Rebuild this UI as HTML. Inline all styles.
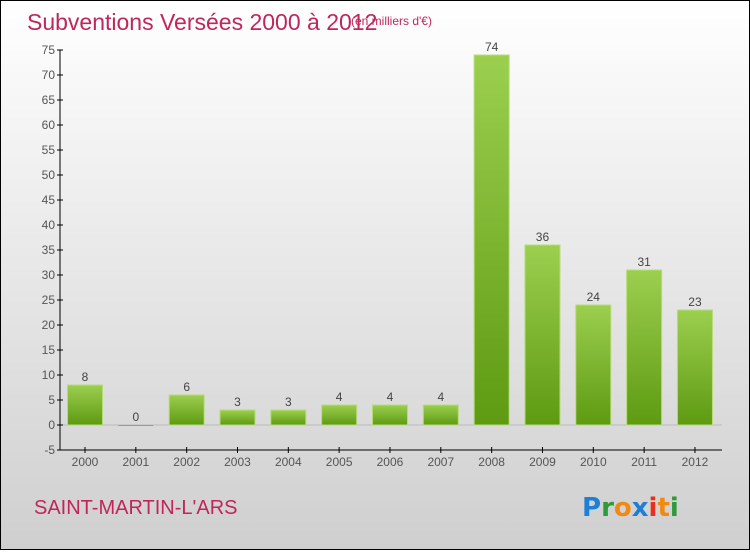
<!DOCTYPE html>
<html><head><meta charset="utf-8"><style>
body{margin:0;width:750px;height:550px;overflow:hidden;font-family:"Liberation Sans",sans-serif}
</style></head><body>
<svg width="750" height="550" xmlns="http://www.w3.org/2000/svg">
<defs>
<linearGradient id="bg" x1="0" y1="0" x2="0" y2="1"><stop offset="0" stop-color="#ffffff"/><stop offset="1" stop-color="#cfcfcf"/></linearGradient>
<linearGradient id="bar" x1="0" y1="0" x2="0" y2="1"><stop offset="0" stop-color="#9ccf4f"/><stop offset="1" stop-color="#5e9a12"/></linearGradient>
</defs>
<rect x="0.5" y="0.5" width="749" height="549" fill="url(#bg)" stroke="#000"/>
<text x="27" y="30" font-size="23" fill="#c0265a">Subventions Versées 2000 à 2012</text>
<text x="351" y="25" font-size="12" fill="#c0265a">(en milliers d'€)</text>
<g id="axes"></g>
<g id="bars"></g>
<text x="34" y="514" font-size="20" fill="#c0265a">SAINT-MARTIN-L'ARS</text>
<g font-size="26" font-weight="bold" font-family="'DejaVu Sans',sans-serif">
<text x="582" y="516"><tspan fill="#1e7fd6">P</tspan><tspan fill="#2e9a3a">r</tspan><tspan fill="#f08a10">o</tspan><tspan fill="#1e7fd6">x</tspan><tspan fill="#e83020">i</tspan><tspan fill="#f08a10">t</tspan><tspan fill="#2e9a3a">i</tspan></text>
</g>
</svg>
<script>
const years=["2000","2001","2002","2003","2004","2005","2006","2007","2008","2009","2010","2011","2012"];
const values=[8,0,6,3,3,4,4,4,74,36,24,31,23];
const yTicks=[-5,0,5,10,15,20,25,30,35,40,45,50,55,60,65,70,75];
const NS="http://www.w3.org/2000/svg";
const y=v=>425-v*5;
const x=i=>85+i*50.83;
const ax=document.getElementById('axes'),bg=document.getElementById('bars');
function mk(t,a,p){const e=document.createElementNS(NS,t);for(const k in a)e.setAttribute(k,a[k]);p.appendChild(e);return e;}
const yl=mk('line',{x1:60,y1:y(75),x2:60,y2:y(-5),stroke:'#000'},ax);


const xl=mk('line',{x1:60,y1:450,x2:722,y2:450,stroke:'#000'},ax);


mk('line',{x1:60,y1:y(0),x2:722,y2:y(0),stroke:'#999','stroke-width':0.5},ax);
yTicks.forEach(v=>{
 mk('line',{x1:57,y1:y(v),x2:63,y2:y(v),stroke:'#000'},ax);
 const t=mk('text',{x:55,y:y(v)+4,'text-anchor':'end','font-size':12,fill:'#555'},ax);
 t.textContent=v;
 
 
});
years.forEach((yr,i)=>{
 mk('line',{x1:x(i),y1:447,x2:x(i),y2:453,stroke:'#000'},ax);
 const t=mk('text',{x:x(i),y:466,'text-anchor':'middle','font-size':12,fill:'#555'},ax);
 t.textContent=yr;
 
 
 const v=values[i];
 const top=Math.min(y(v),y(0)),h=Math.max(Math.abs(y(0)-y(v)),1);
 const r=mk('rect',{x:x(i)-17.5,y:top,width:35,height:h,fill:v===0?'#999':'url(#bar)',stroke:v===0?'none':'#b6dc78','stroke-width':1},bg);
 
 
 const l=mk('text',{x:x(i),y:top-4,'text-anchor':'middle','font-size':12,fill:'#444'},bg);
 l.textContent=v;
 
 
});
</script>
</body></html>
